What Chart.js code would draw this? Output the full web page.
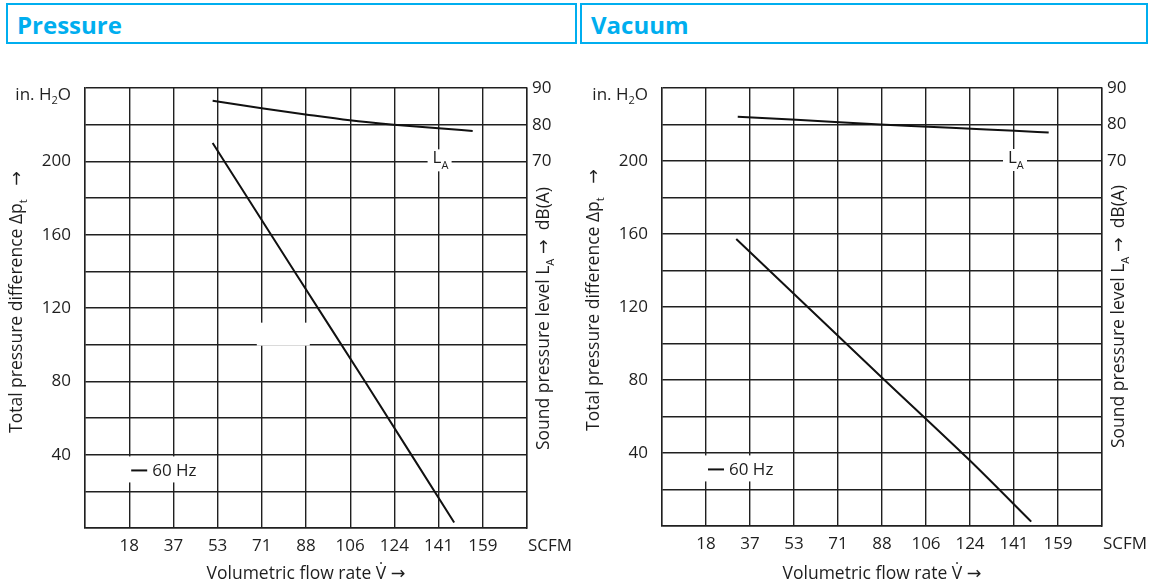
<!DOCTYPE html>
<html>
<head>
<meta charset="utf-8">
<script src="https://cdn.jsdelivr.net/npm/chart.js@4.4.1/dist/chart.umd.min.js"></script>
<style>
  html, body { margin:0; padding:0; background:#fff; width:1149px; height:586px; overflow:hidden; }
  .hdr { position:absolute; top:3px; height:41px; box-sizing:border-box; border:2px solid #00AEEF;
         color:#00AEEF; font:700 24px 'Open Sans', 'Noto Sans', sans-serif; line-height:39px; padding-left:9px; }
  canvas { position:absolute; top:0; }
</style>
</head>
<body>
<div class="hdr" style="left:6px;width:571px;">Pressure</div>
<div class="hdr" style="left:580px;width:568px;padding-left:9px;">Vacuum</div>
<canvas id="c1" width="580" height="586" style="left:0px;width:580px;height:586px;"></canvas>
<canvas id="c2" width="569" height="586" style="left:580px;width:569px;height:586px;"></canvas>
<script>
// ---------- DATA ----------
const SCFM_PER_DIV = 17.66;                       // one grid division of the flow axis
const xTickLabels = ['18','37','53','71','88','106','124','141','159'];
const xUnitLabel = 'SCFM';
const yLeftTicks = [40, 80, 120, 160, 200];        // in. H2O
const yRightTicks = [70, 80, 90];                  // dB(A)

// Pressure panel
const pressureFlow = [51.0, 84.6, 111.8, 147.5];
const pressureDp   = [210, 138, 80, 3];
const pressureLaFlow = [51.0, 70.6, 88.1, 105.8, 123.4, 141.3, 154.9];
const pressureLa     = [86.5, 84.5, 82.8, 81.2, 80.0, 79.0, 78.3];

// Vacuum panel
const vacuumFlow = [29.8, 87.6, 124.1, 148.2];
const vacuumDp   = [157.3, 82.2, 35.2, 2.4];
const vacuumLaFlow = [30.4, 53.9, 87.6, 106.8, 124.1, 141.6, 155.2];
const vacuumLa     = [82.1, 81.3, 80.0, 79.4, 78.85, 78.3, 77.8];

const legendLabel = '60 Hz';
// ---------------------------

const FONT = "'Open Sans', 'DejaVu Sans', sans-serif";
const TXT = '#1e1e1e';
const GRID = '#202020';
const GW = 1.4;
const FS = 17;

function pts(xs, ys) { return xs.map((x, i) => ({x, y: ys[i]})); }

function drawRich(ctx, segs, x, y, opt) {
  const size = opt.size || FS, sub = opt.subSize || 11;
  ctx.save();
  ctx.translate(x, y);
  if (opt.rot) ctx.rotate(opt.rot);
  ctx.fillStyle = opt.color || TXT;
  ctx.textBaseline = 'alphabetic';
  ctx.textAlign = 'left';
  let w = 0;
  segs.forEach(s => { ctx.font = (s.sub ? sub : size) + 'px ' + FONT; w += ctx.measureText(s.t).width; });
  let cx = opt.align === 'center' ? -w / 2 : (opt.align === 'right' ? -w : 0);
  segs.forEach(s => {
    ctx.font = (s.sub ? sub : size) + 'px ' + FONT;
    ctx.fillText(s.t, cx, s.sub ? (opt.subDy || 5) : 0);
    cx += ctx.measureText(s.t).width;
  });
  ctx.restore();
  return w;
}

function makePanel(id, cfg) {
  const annot = {
    id: 'annot',
    afterDatasetsDraw(chart) {
      const ctx = chart.ctx, a = chart.chartArea;
      const xs = chart.scales.x, ys = chart.scales.y, y2 = chart.scales.y2;
      ctx.save();
      // white label boxes
      ctx.fillStyle = '#fff';
      const lx = xs.getPixelForValue(SCFM_PER_DIV * 1);
      const ly = ys.getPixelForValue(cfg.legendY);
      ctx.fillRect(lx - 4, ly - 14, 74, 26);
      const Lx = xs.getPixelForValue(SCFM_PER_DIV * 8);
      const Ly = y2.getPixelForValue(70);
      ctx.fillRect(Lx - 11, Ly - 12, 24, 22);
      if (cfg.blank) ctx.fillRect(xs.getPixelForValue(SCFM_PER_DIV * 4) - 5, ys.getPixelForValue(112), 53, 23);
      // legend
      ctx.strokeStyle = '#111'; ctx.lineWidth = 2;
      ctx.beginPath(); ctx.moveTo(lx + 2, ly); ctx.lineTo(lx + 18, ly); ctx.stroke();
      drawRich(ctx, [{t: legendLabel}], lx + 23, ly + 6, {size: 17});
      // L_A label
      drawRich(ctx, [{t: 'L'}, {t: 'A', sub: true}], Lx - 6, Ly + 2, {size: 17, subSize: 11, subDy: 6});
      // top-left unit
      drawRich(ctx, [{t: 'in. H'}, {t: '2', sub: true}, {t: 'O'}], a.left - 14, a.top + 12, {size: 17, subSize: 11, subDy: 4, align: 'right'});
      // SCFM
      drawRich(ctx, [{t: xUnitLabel}], a.right + 1, a.bottom + 23, {size: 17});
      // x title
      drawRich(ctx, [{t: 'Volumetric flow rate V\u0307 \u2192'}], (a.left + a.right) / 2, 579, {size: 17.5, align: 'center'});
      // left title
      drawRich(ctx, [{t: 'Total pressure difference \u0394p'}, {t: 't', sub: true}, {t: '   \u2192'}],
        a.left - 63, a.bottom - 95, {size: 17.5, subSize: 11, rot: -Math.PI / 2});
      // right title
      drawRich(ctx, [{t: 'Sound pressure level L'}, {t: 'A', sub: true}, {t: ' \u2192  dB(A)'}],
        a.right + 22, a.bottom - 78, {size: 17.5, subSize: 11, rot: -Math.PI / 2});
      ctx.restore();
    }
  };

  return new Chart(document.getElementById(id), {
    type: 'line',
    data: {
      datasets: [
        {data: pts(cfg.flow, cfg.dp), yAxisID: 'y', borderColor: '#111', borderWidth: 2, pointRadius: 0, tension: 0.25, fill: false},
        {data: pts(cfg.laFlow, cfg.la), yAxisID: 'y2', borderColor: '#111', borderWidth: 2, pointRadius: 0, cubicInterpolationMode: 'monotone', fill: false}
      ]
    },
    options: {
      responsive: false, animation: false, devicePixelRatio: 1,
      layout: {padding: {top: 88, left: 0, right: 0, bottom: 0}},
      plugins: {legend: {display: false}, tooltip: {enabled: false}},
      scales: {
        x: {
          type: 'linear', min: 0, max: SCFM_PER_DIV * 10,
          afterBuildTicks: s => { s.ticks = Array.from({length: 11}, (_, i) => ({value: i * SCFM_PER_DIV})); },
          afterFit: s => { s.height = cfg.xH; },
          ticks: {autoSkip: false, maxRotation: 0, padding: 8, color: TXT, font: {family: FONT, size: FS},
                  callback: (v, i) => (i >= 1 && i <= xTickLabels.length) ? xTickLabels[i - 1] : ''},
          grid: {color: GRID, lineWidth: GW, drawTicks: false},
          border: {color: GRID, width: GW}
        },
        y: {
          type: 'linear', position: 'left', min: 0, max: 240,
          afterFit: s => { s.width = cfg.yW; },
          ticks: {stepSize: 20, padding: 14, color: TXT, font: {family: FONT, size: FS},
                  callback: v => yLeftTicks.includes(v) ? String(v) : ''},
          grid: {color: GRID, lineWidth: GW, drawTicks: false},
          border: {color: GRID, width: GW}
        },
        y2: {
          type: 'linear', position: 'right', min: -30, max: 90,
          afterFit: s => { s.width = cfg.y2W; },
          ticks: {stepSize: 10, padding: 5, color: TXT, font: {family: FONT, size: FS},
                  callback: v => yRightTicks.includes(v) ? String(v) : ''},
          grid: {drawOnChartArea: false, drawTicks: false},
          border: {color: GRID, width: GW}
        }
      }
    },
    plugins: [annot]
  });
}

makePanel('c1', {flow: pressureFlow, dp: pressureDp, laFlow: pressureLaFlow, la: pressureLa,
                 yW: 85, y2W: 53, xH: 58, legendY: 31.4, blank: true});
makePanel('c2', {flow: vacuumFlow, dp: vacuumDp, laFlow: vacuumLaFlow, la: vacuumLa,
                 yW: 82, y2W: 47, xH: 60, legendY: 31.0, blank: false});
</script>
</body>
</html>
